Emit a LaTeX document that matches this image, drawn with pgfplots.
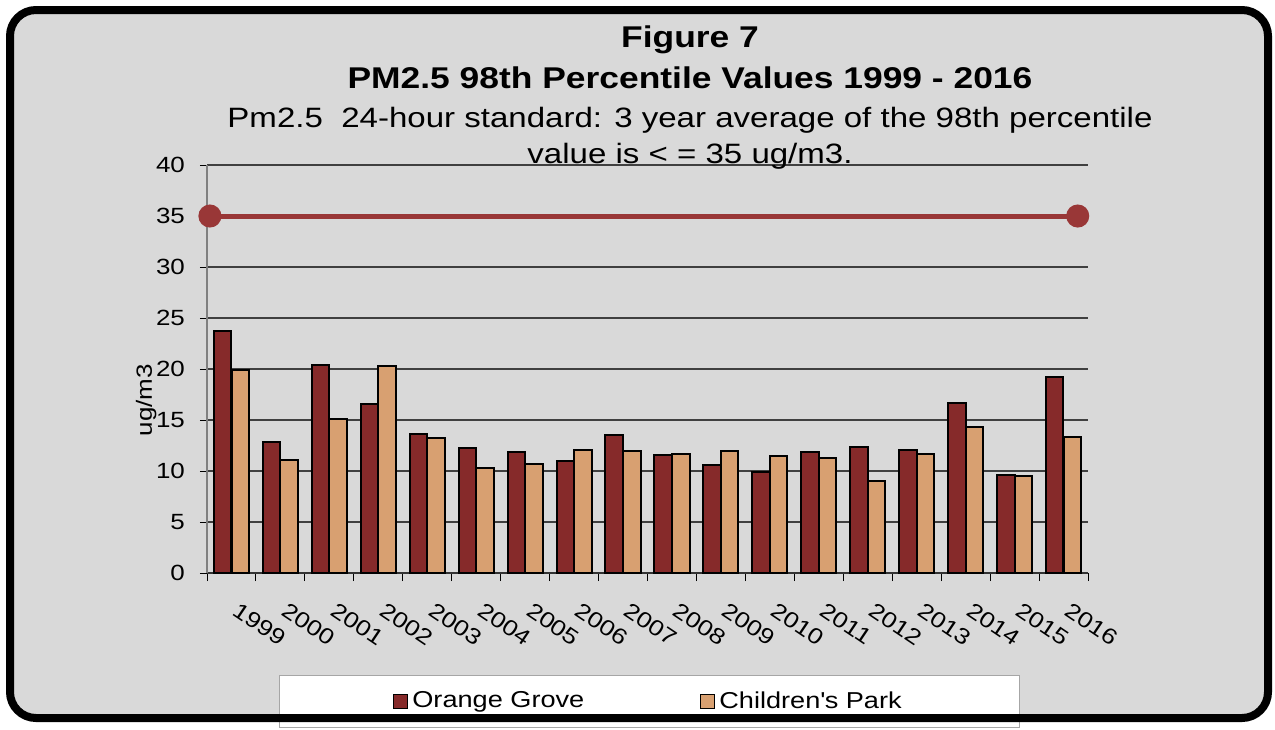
\documentclass[border=0pt]{standalone}
\usepackage{fontspec}
\setmainfont{Liberation Sans}[FakeStretch=1.18]
\usepackage{pgfplots}
\usepackage{pgfplotstable}
\pgfplotsset{compat=1.18}
\definecolor{bggray}{HTML}{D9D9D9}
\definecolor{grove}{HTML}{862A2A}
\definecolor{park}{HTML}{D8A071}
\definecolor{stdline}{HTML}{993737}

% PM2.5 98th percentile, ug/m3
\pgfplotstableread{
idx year grove park
0  1999 23.7 19.9
1  2000 12.8 11.1
2  2001 20.4 15.1
3  2002 16.6 20.3
4  2003 13.6 13.2
5  2004 12.3 10.3
6  2005 11.9 10.7
7  2006 11.0 12.1
8  2007 13.5 12.0
9  2008 11.6 11.7
10 2009 10.6 12.0
11 2010  9.9 11.5
12 2011 11.9 11.3
13 2012 12.4  9.0
14 2013 12.1 11.7
15 2014 16.7 14.3
16 2015  9.6  9.5
17 2016 19.2 13.3
}\pmdata

\begin{document}
\begin{tikzpicture}
\path[use as bounding box] (0,0) rectangle (637.5pt,-364.5pt);
\fill[white] (0,0) rectangle (637.5pt,-364.5pt);
\fill[bggray, rounded corners=13pt] (5pt,-5pt) rectangle (634pt,-359pt);

\begin{axis}[
  at={(103.5pt,-286.5pt)}, anchor=south west,
  scale only axis, width=440.5pt, height=204pt,
  xmin=-0.5, xmax=17.5, ymin=0, ymax=40,
  ytick={0,5,...,40},
  xtick={0,...,17},
  xticklabels={1999,2000,2001,2002,2003,2004,2005,2006,2007,2008,2009,2010,2011,2012,2013,2014,2015,2016},
  minor xtick={-0.5,0.5,...,17.5},
  axis x line*=bottom, axis y line*=left,
  ymajorgrids,
  grid style={draw=black!75, line width=0.6pt},
  tick align=outside,
  major tick length=3.5pt, minor tick length=4pt,
  major x tick style={draw=none},
  minor x tick style={draw=black, line width=0.5pt},
  ytick style={draw=black, line width=0.5pt},
  x axis line style={draw=black!80, line width=0.6pt, -},
  y axis line style={draw=gray, line width=0.6pt, -},
  tick label style={font=\fontsize{11}{13}\selectfont},
  xticklabel style={rotate=-34, anchor=north west, yshift=-3pt, xshift=6pt},
  yticklabel style={xshift=-4pt},
  /pgf/number format/assume math mode=true,
  ylabel={ug/m3},
  ylabel style={at={(axis description cs:-0.069,0.424)}, anchor=center, font=\fontsize{11}{13}\selectfont},
  clip=false,
  legend style={at={(0.5023,-0.25)}, anchor=north, legend columns=2,
    draw=gray!70, fill=white, font=\fontsize{11.5}{13}\selectfont,
    inner xsep=57pt, inner ysep=6pt, cells={anchor=west},
    /tikz/every even column/.append style={column sep=56pt}},
  legend image code/.code={\draw[#1, line width=0.5pt] (0pt,-3.5pt) rectangle (7pt,3.5pt);},
]
\addplot[ybar, bar width=8.75pt, bar shift=-4.4pt, fill=grove, draw=black, line width=1pt]
  table[x=idx, y=grove] {\pmdata};
\addplot[ybar, bar width=8.75pt, bar shift=4.4pt, fill=park, draw=black, line width=1pt]
  table[x=idx, y=park] {\pmdata};
\addplot[sharp plot, stdline, line width=2.5pt, mark=*, mark size=4.5pt, mark options={fill=stdline, draw=stdline}, forget plot]
  coordinates {(-0.44,35) (17.29,35)};
\legend{Orange Grove, Children\textquotesingle s Park}
\end{axis}

\node[anchor=base, font=\bfseries\fontsize{15}{18}\selectfont] at (345pt,-23.5pt) {Figure 7};
\node[anchor=base, font=\bfseries\fontsize{15}{18}\selectfont] at (345pt,-44pt) {PM2.5 98th Percentile Values 1999 - 2016};
\node[anchor=base, font=\fontsize{14}{17}\selectfont] at (345pt,-63.5pt) {Pm2.5\ \ 24-hour standard: 3 year average of the 98th percentile};
\node[anchor=base, font=\fontsize{14}{17}\selectfont] at (345pt,-81.5pt) {value is < = 35 ug/m3.};

\draw[black, line width=4pt, rounded corners=13pt] (5pt,-5pt) rectangle (634pt,-359pt);
\end{tikzpicture}
\end{document}
